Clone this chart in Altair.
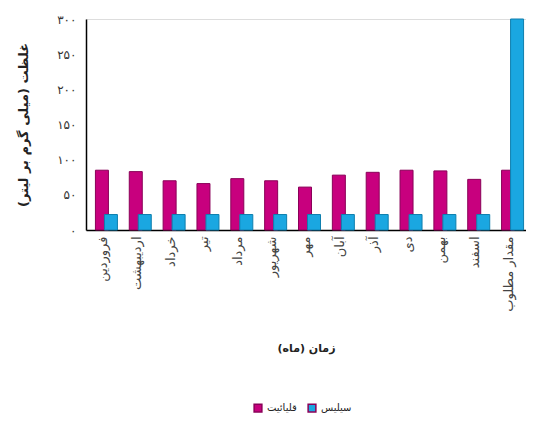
import altair as alt
import pandas as pd

months = ["فروردین", "اردیبهشت", "خرداد", "تیر", "مرداد", "شهریور", "مهر",
          "آبان", "آذر", "دی", "بهمن", "اسفند", "مقدار مطلوب"]
alkalinity = [85, 83, 70, 66, 73, 70, 61, 78, 82, 85, 84, 72, 85]
silica = [22, 22, 22, 22, 22, 22, 22, 22, 22, 22, 22, 22, 300]
series_names = ["قلیائیت", "سیلیس"]
colors = ["#C8007E", "#1AA7E1"]
strokes = ["#8A0058", "#0F7FAE"]
y_ticks = [0, 50, 100, 150, 200, 250, 300]
y_tick_labels = ["۰", "۵۰", "۱۰۰", "۱۵۰", "۲۰۰", "۲۵۰", "۳۰۰"]

df = pd.DataFrame({
    "month": months * 2,
    "series": [series_names[0]] * len(months) + [series_names[1]] * len(months),
    "value": alkalinity + silica,
})

label_expr = " : ".join(
    f"datum.value == {v} ? '{l}'" for v, l in zip(y_ticks, y_tick_labels)
) + " : ''"

FONT = "DejaVu Sans"

x = alt.X("month:N", sort=months,
          scale=alt.Scale(paddingInner=0, paddingOuter=0),
          axis=alt.Axis(title="زمان (ماه)", labelAngle=270, ticks=False,
                        labelFontSize=13, labelPadding=6, titlePadding=31,
                        titleFontSize=11, titleFontWeight="bold",
                        domainColor="#000000", domainWidth=1.5,
                        labelColor="#444444", titleColor="#222222"))
y = alt.Y("value:Q",
          scale=alt.Scale(domain=[0, 300], nice=False),
          axis=alt.Axis(title="غلظت (میلی گرم بر لیتر)", values=y_ticks,
                        labelExpr=label_expr, grid=False, ticks=False,
                        labelFontSize=12, labelPadding=10, titlePadding=26,
                        titleFontSize=13, titleFontWeight="bold",
                        domainColor="#000000", domainWidth=1.5,
                        labelColor="#333333", titleColor="#222222"))
color = alt.Color("series:N",
                  scale=alt.Scale(domain=series_names, range=colors),
                  legend=alt.Legend(title=None, orient="none", direction="horizontal",
                                    legendX=167, legendY=384,
                                    symbolType="square", symbolSize=60,
                                    labelFontSize=10, labelColor="#222222",
                                    columnPadding=8))

base = alt.Chart(df)
alk = base.transform_filter(alt.datum.series == series_names[0]).mark_bar(
    width=13, xOffset=-1, stroke=strokes[0], strokeWidth=1
).encode(x=x, y=y, color=color)
sil = base.transform_filter(alt.datum.series == series_names[1]).mark_bar(
    width=13, xOffset=8, stroke=strokes[1], strokeWidth=1
).encode(x=x, y=y, color=color)

chart = alt.layer(alk, sil).properties(
    width=440, height=211,
    padding={"left": 9, "top": 5, "right": 0, "bottom": 0},
).configure_view(stroke=None).configure(font=FONT, background="white")

chart.save("out.html", embed_options={"renderer": "svg", "actions": False})
